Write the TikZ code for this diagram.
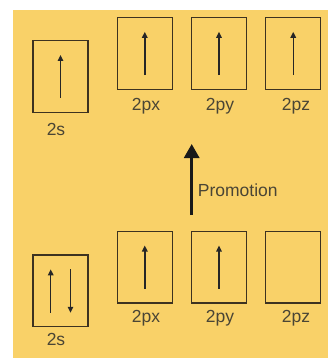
\documentclass[tikz,border=0pt]{standalone}
\usepackage{fontspec}
\setmainfont{Liberation Sans}
\usetikzlibrary{arrows.meta,calc}
\definecolor{bgyellow}{HTML}{F9D168}
\definecolor{boxline}{HTML}{3D3220}
\definecolor{labeltext}{HTML}{4A4535}
\begin{document}
\begin{tikzpicture}[x=1pt,y=-1pt,
  orbital/.style={draw=boxline,line width=1.3pt,minimum width=55pt,minimum height=71.5pt,inner sep=0pt},
  lbl/.style={text=labeltext,font=\fontsize{17.5}{19}\selectfont,inner sep=0pt},
  spin/.style={draw=black!85,line width=1.4pt,-{Triangle[width=5.5pt,length=6pt]}},
  promo/.style={draw=black!90,line width=3pt,-{Triangle[width=15pt,length=14pt]}}]
\useasboundingbox (0,0) rectangle (328,358);
\fill[bgyellow] (13,10) rectangle (328,358);
% top row
\node[orbital] (ts) at (60.5,76.5) {};
\node[orbital] (tx) at (144.8,53.5) {};
\node[orbital] (ty) at (219,53.5) {};
\node[orbital] (tz) at (293.2,53.5) {};
\node[lbl] (tsl) at (56,129.5) {2s};
\node[lbl] (txl) at (146,106) {2px};
\node[lbl] (tyl) at (220,106) {2py};
\node[lbl] (tzl) at (296,106) {2pz};
\draw[spin] ($(ts.center)+(0,21.5)$) -- ($(ts.center)+(0,-21.5)$);
\draw[spin] ($(tx.center)+(0,21.7)$) -- ($(tx.center)+(0,-21.7)$);
\draw[spin] ($(ty.center)+(0,21.7)$) -- ($(ty.center)+(0,-21.7)$);
\draw[spin] ($(tz.center)+(0,21.7)$) -- ($(tz.center)+(0,-21.7)$);
% bottom row
\node[orbital] (bs) at (60.5,290.8) {};
\node[orbital] (bx) at (144.8,267.2) {};
\node[orbital] (by) at (219,267.2) {};
\node[orbital] (bz) at (293.2,267.2) {};
\node[lbl] (bsl) at (56,339) {2s};
\node[lbl] (bxl) at (146,318) {2px};
\node[lbl] (byl) at (220,318) {2py};
\node[lbl] (bzl) at (296,318) {2pz};
\draw[spin] ($(bs.center)+(-9.8,22)$) -- ($(bs.center)+(-9.8,-21.5)$);
\draw[spin] ($(bs.center)+(10,-21.5)$) -- ($(bs.center)+(10,22)$);
\draw[spin] ($(bx.center)+(0,21.7)$) -- ($(bx.center)+(0,-21.7)$);
\draw[spin] ($(by.center)+(0,21.7)$) -- ($(by.center)+(0,-21.7)$);
% promotion
\coordinate (pbot) at (191.7,215);
\coordinate (ptop) at (191.7,144);
\draw[promo] (pbot) -- (ptop);
\node[lbl,anchor=west] (plbl) at (197.7,190) {Promotion};
\end{tikzpicture}
\end{document}
